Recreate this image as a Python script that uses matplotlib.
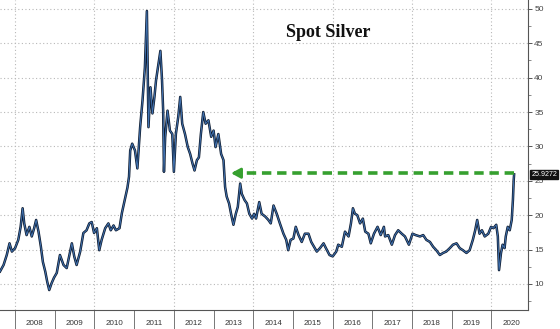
import matplotlib
matplotlib.use("Agg")
import matplotlib.pyplot as plt
from matplotlib.ticker import FixedLocator, MultipleLocator, NullFormatter, FixedFormatter

# ---- data (decimal year, USD/oz) ----
dates = [
    2007.62, 2007.71, 2007.79, 2007.86, 2007.92, 2008.00, 2008.08, 2008.14, 2008.19, 2008.23,
    2008.29, 2008.36, 2008.42, 2008.48, 2008.53, 2008.59, 2008.65, 2008.70, 2008.76, 2008.81,
    2008.86, 2008.92, 2008.98, 2009.05, 2009.13, 2009.22, 2009.30, 2009.37, 2009.43, 2009.49,
    2009.55, 2009.64, 2009.72, 2009.80, 2009.87, 2009.93, 2009.99, 2010.06, 2010.12, 2010.18,
    2010.27, 2010.35, 2010.41, 2010.48, 2010.54, 2010.63, 2010.69, 2010.77, 2010.83, 2010.87,
    2010.90, 2010.95, 2011.02, 2011.08, 2011.15, 2011.21, 2011.27, 2011.32, 2011.36, 2011.41,
    2011.46, 2011.51, 2011.55, 2011.61, 2011.66, 2011.70, 2011.73, 2011.75, 2011.78, 2011.84,
    2011.90, 2011.96, 2012.00, 2012.05, 2012.11, 2012.16, 2012.21, 2012.28, 2012.35, 2012.41,
    2012.47, 2012.52, 2012.58, 2012.63, 2012.68, 2012.74, 2012.80, 2012.87, 2012.94, 2013.00,
    2013.05, 2013.12, 2013.19, 2013.25, 2013.29, 2013.33, 2013.39, 2013.44, 2013.50, 2013.56,
    2013.61, 2013.67, 2013.71, 2013.78, 2013.84, 2013.90, 2013.97, 2014.02, 2014.07, 2014.15,
    2014.21, 2014.30, 2014.38, 2014.44, 2014.51, 2014.59, 2014.67, 2014.76, 2014.83, 2014.88,
    2014.94, 2015.01, 2015.07, 2015.14, 2015.22, 2015.30, 2015.39, 2015.46, 2015.53, 2015.60,
    2015.68, 2015.77, 2015.83, 2015.92, 2016.00, 2016.09, 2016.14, 2016.23, 2016.31, 2016.40,
    2016.46, 2016.51, 2016.56, 2016.62, 2016.69, 2016.76, 2016.82, 2016.90, 2016.96, 2017.04,
    2017.13, 2017.21, 2017.29, 2017.32, 2017.40, 2017.49, 2017.57, 2017.65, 2017.74, 2017.82,
    2017.92, 2018.01, 2018.09, 2018.20, 2018.28, 2018.36, 2018.45, 2018.53, 2018.61, 2018.70,
    2018.78, 2018.86, 2018.95, 2019.03, 2019.12, 2019.20, 2019.28, 2019.37, 2019.45, 2019.53,
    2019.59, 2019.64, 2019.70, 2019.76, 2019.83, 2019.92, 2019.99, 2020.05, 2020.12, 2020.16,
    2020.19, 2020.24, 2020.28, 2020.33, 2020.36, 2020.41, 2020.46, 2020.51, 2020.54, 2020.56,
    2020.57,
]
prices = [
    11.8, 12.75, 14.2, 15.9, 14.7, 15.2, 16.4, 18.3, 21.0, 18.8,
    17.1, 18.3, 16.9, 18.1, 19.3, 17.6, 15.4, 13.2, 11.8, 10.3,
    9.1, 10.1, 10.9, 11.6, 14.2, 12.75, 12.3, 14.2, 15.9, 14.0,
    12.75, 14.7, 17.4, 17.8, 18.8, 19.0, 17.4, 18.1, 14.9, 16.4,
    18.1, 18.8, 17.8, 18.5, 17.8, 18.1, 20.3, 22.4, 24.0, 25.6,
    29.4, 30.4, 29.4, 26.8, 32.8, 36.7, 41.5, 49.7, 32.8, 38.6,
    34.8, 37.2, 39.6, 42.0, 43.9, 39.8, 35.2, 26.3, 31.3, 35.2,
    32.3, 31.8, 26.3, 31.8, 34.3, 37.2, 33.3, 31.8, 29.9, 28.9,
    27.5, 26.5, 28.0, 28.4, 31.8, 35.0, 33.3, 33.8, 31.4, 32.3,
    29.9, 31.8, 28.9, 28.0, 24.1, 22.7, 21.7, 20.2, 18.6, 20.2,
    21.2, 24.6, 23.1, 22.2, 21.7, 20.2, 19.5, 20.2, 19.5, 21.9,
    20.2, 19.8, 19.3, 18.8, 21.4, 20.2, 18.8, 17.3, 16.4, 14.9,
    16.4, 16.6, 18.3, 17.1, 16.1, 17.3, 17.3, 16.1, 15.4, 14.7,
    15.2, 15.9, 15.2, 14.2, 14.0, 14.7, 15.7, 15.4, 17.6, 16.9,
    18.8, 21.0, 20.2, 20.0, 18.8, 19.5, 17.6, 17.3, 15.9, 17.3,
    18.3, 17.1, 18.3, 16.9, 17.1, 15.7, 17.1, 17.8, 17.3, 16.9,
    15.7, 17.3, 17.1, 16.9, 17.1, 16.4, 16.1, 15.4, 14.9, 14.2,
    14.5, 14.7, 15.2, 15.7, 15.9, 15.2, 14.9, 14.5, 14.9, 16.4,
    17.8, 19.3, 17.3, 17.8, 16.9, 17.3, 18.3, 18.1, 18.6, 16.9,
    12.0, 14.5, 15.7, 15.2, 16.9, 18.3, 17.8, 19.3, 22.2, 25.1,
    25.9272,
]
years = [2008, 2009, 2010, 2011, 2012, 2013, 2014, 2015, 2016, 2017, 2018, 2019, 2020]
year_labels = [str(y) for y in years]
y_ticks = [10, 15, 20, 25, 30, 35, 40, 45, 50]
last_label = "25.9272"
arrow_level = 26.1
arrow_start = 2020.57
arrow_end = 2013.37
title = "Spot Silver"

fig = plt.figure(figsize=(5.6, 3.29), dpi=100)
ax = fig.add_axes([0.0, 19 / 329, 528 / 560, 310 / 329])

ax.set_xlim(2007.62, 2020.92)
ax.set_ylim(6.2, 51.3)

# grid
grid_kw = dict(color="#b8b8b8", lw=0.8, linestyle=(0, (1, 2.2)), zorder=0)
for v in y_ticks:
    ax.axhline(v, **grid_kw)
for yr in years[::2]:
    ax.axvline(yr, **grid_kw)

# series
ax.plot(dates, prices, color="#0d1a2e", lw=1.8, zorder=3, solid_joinstyle="round")
ax.plot(dates, prices, color="#4172b0", lw=0.7, zorder=4, solid_joinstyle="round")

# green dashed arrow
green = "#36a02f"
ax.plot([arrow_start, arrow_end + 0.15], [arrow_level, arrow_level], color=green,
        lw=2.6, linestyle=(0, (2.6, 1.6)), zorder=5, solid_capstyle="butt")
ax.annotate("", xy=(arrow_end, arrow_level), xytext=(arrow_end + 0.3, arrow_level),
            arrowprops=dict(arrowstyle="-|>,head_length=0.55,head_width=0.3",
                            color=green, lw=2.0), zorder=6)

# title
ax.text(0.542, 0.882, title, transform=ax.transAxes, fontsize=13, fontweight="bold",
        family="Liberation Serif", color="#111111", ha="left", va="baseline")

# spines
for s in ["left", "top"]:
    ax.spines[s].set_visible(False)
for s in ["right", "bottom"]:
    ax.spines[s].set_color("#555555")
    ax.spines[s].set_linewidth(0.8)

# y axis on right
ax.yaxis.tick_right()
ax.yaxis.set_major_locator(FixedLocator(y_ticks))
ax.yaxis.set_minor_locator(MultipleLocator(2.5))
ax.tick_params(axis="y", which="major", length=3, width=0.7, color="#555555",
               labelsize=6, labelcolor="#444444", pad=1.5)
ax.tick_params(axis="y", which="minor", length=2, width=0.6, color="#777777")
for lab in ax.get_yticklabels():
    lab.set_family("Liberation Sans")

# x axis: separators at year boundaries, labels at mid-year
ax.xaxis.set_major_locator(FixedLocator(years))
ax.xaxis.set_major_formatter(NullFormatter())
ax.xaxis.set_minor_locator(FixedLocator([y + 0.5 for y in years]))
ax.xaxis.set_minor_formatter(FixedFormatter(year_labels))
ax.tick_params(axis="x", which="major", length=14, width=0.7, color="#777777", direction="out")
ax.tick_params(axis="x", which="minor", length=0, labelsize=5.8, labelcolor="#333333", pad=7)
for lab in ax.get_xticklabels(minor=True):
    lab.set_family("Liberation Sans")

# last value label
ax.annotate(last_label, xy=(1.006, prices[-1]), xycoords=("axes fraction", "data"),
            ha="left", va="center", fontsize=5.1, color="white", family="Liberation Sans",
            bbox=dict(boxstyle="square,pad=0.15", fc="#111111", ec="#111111"),
            annotation_clip=False, zorder=10)

fig.savefig("out.png", dpi=100)
